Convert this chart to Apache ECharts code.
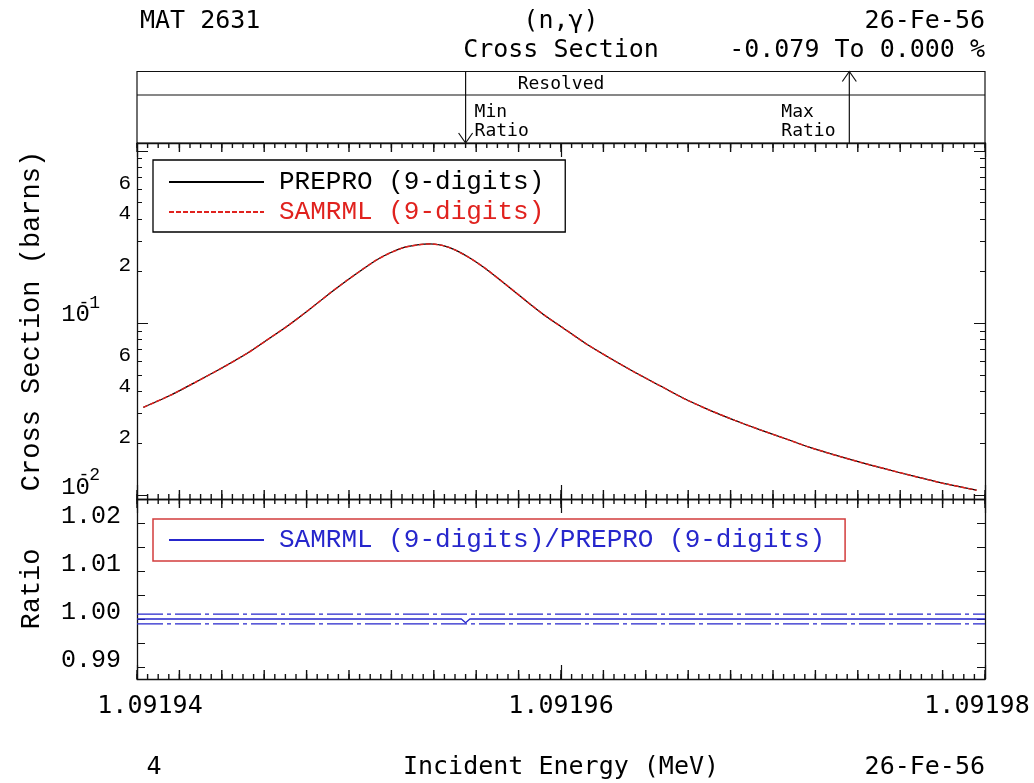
<!DOCTYPE html>
<html><head><meta charset="utf-8">
<script src="https://cdn.jsdelivr.net/npm/echarts@6/dist/echarts.min.js"></script>
<style>html,body{margin:0;padding:0;background:#fff}#c{width:1034px;height:783px}</style>
</head><body><div id="c"></div>
<script>
// ---------------- data ----------------
const energyMeV = [1.0919403, 1.0919416, 1.0919428, 1.0919440, 1.0919452, 1.0919461, 1.0919471, 1.0919481, 1.0919491, 1.0919499,
                   1.0919507, 1.0919513, 1.0919519, 1.0919526, 1.0919533, 1.0919538, 1.0919544, 1.0919550, 1.0919557, 1.0919564,
                   1.0919571, 1.0919578, 1.0919585, 1.0919593, 1.0919601, 1.0919612, 1.0919623, 1.0919635, 1.0919647, 1.0919658,
                   1.0919670, 1.0919682, 1.0919694, 1.0919706, 1.0919717, 1.0919729, 1.0919741, 1.0919753, 1.0919765, 1.0919780,
                   1.0919796];
const prepro    = [0.03236, 0.03815, 0.04558, 0.05475, 0.06664, 0.07913, 0.09607, 0.1190, 0.1489, 0.1766,
                   0.2074, 0.2324, 0.2542, 0.2748, 0.2850, 0.2880, 0.2823, 0.2657, 0.2387, 0.2088,
                   0.1790, 0.1525, 0.1299, 0.1091, 0.09352, 0.07548, 0.06258, 0.05155, 0.04302, 0.03639,
                   0.03120, 0.02718, 0.02393, 0.02125, 0.01901, 0.01713, 0.01555, 0.01420, 0.01302, 0.01174,
                   0.01069];
const samrml    = [0.03236, 0.03815, 0.04558, 0.05475, 0.06664, 0.07913, 0.09607, 0.1190, 0.1489, 0.1766,
                   0.2074, 0.2324, 0.2542, 0.2748, 0.2850, 0.2880, 0.2823, 0.2657, 0.2387, 0.2088,
                   0.1790, 0.1525, 0.1299, 0.1091, 0.09352, 0.07548, 0.06258, 0.05155, 0.04302, 0.03639,
                   0.03120, 0.02718, 0.02393, 0.02125, 0.01901, 0.01713, 0.01555, 0.01420, 0.01302, 0.01174,
                   0.01069];
const ratioEnergy = [1.09194, 1.0919553, 1.0919555, 1.0919557, 1.09198];
const ratioValues = [1.0, 1.0, 0.99921, 1.0, 1.0];
const ratioBands = [0.999, 1.001];
const xRange = [1.09194, 1.09198];
const xMajorStep = 2e-5;
const xMediumStep = 2e-6;
const xMinorStep = 5e-7;
const csRange = [0.0095, 1.11];
const csDecades = [0.01, 0.1, 1];
const csDecadeLabels = [0.01, 0.1];
const csMinorLabels = [0.02, 0.04, 0.06, 0.2, 0.4, 0.6];
const ratioRange = [0.9875, 1.025];
const ratioTickLabels = [0.99, 1.00, 1.01, 1.02];
const ratioTickStep = 0.005;
const minRatioE = 1.0919555, maxRatioE = 1.0919736;
const headerTexts = { mat: 'MAT 2631', reaction: '(n,γ)', nuclide: '26-Fe-56', quantity: 'Cross Section', range: '-0.079 To 0.000 %', region: 'Resolved', page: '4' };

// ---------------- helpers ----------------
const MONO = 'Liberation Mono';
const SANS = 'DejaVu Sans Mono';
const AX = '#111';
const BLUE = '#2626cc';
const RED = '#e0221e';
const L = 137, R = 985, W = 1034;
const G0 = {top: 143, h: 356};
const G1 = {top: 499, h: 180};

function steps(a, b, s) {
  const out = []; const n = Math.round((b - a) / s);
  for (let i = 0; i <= n; i++) out.push(+(a + i * s).toFixed(9));
  return out;
}
const xMediumTicks = steps(xRange[0], xRange[1], xMediumStep);
const xMinorTicks = steps(xRange[0], xRange[1], xMinorStep);

const csMinorTicks = [];
csDecades.slice(0, -1).forEach(d => { for (let m = 1; m <= 9; m++) csMinorTicks.push(+(m * d).toPrecision(3)); });
csMinorTicks.push(1);
const ratioTicks = steps(ratioTickLabels[0], ratioTickLabels[ratioTickLabels.length - 1], ratioTickStep);

function xAxesFor(grid, withLabels) {
  const out = [];
  ['bottom', 'top'].forEach(pos => {
    const lab = withLabels && pos === 'bottom';
    out.push({
      type: 'value', gridIndex: grid, min: xRange[0], max: xRange[1], splitLine: {show: false},
      axisLine: {show: true, onZero: false, lineStyle: {color: AX, width: 1.3}},
      position: pos, interval: xMajorStep,
      axisTick: {show: true, inside: true, length: 14, lineStyle: {color: AX, width: 1.2}},
      axisLabel: lab ? {
        show: true, margin: 15, color: '#000', fontFamily: SANS, fontSize: 25,
        formatter: v => {
          const t = v.toFixed(5);
          if (Math.abs(v - xRange[0]) < 1e-9) return '{f|' + t + '}';
          if (Math.abs(v - xRange[1]) < 1e-9) return '{l|' + t + '}';
          return t;
        },
        rich: {f: {fontFamily: SANS, fontSize: 25, padding: [0, 0, 0, 26]}, l: {fontFamily: SANS, fontSize: 25, padding: [0, 16, 0, 0]}}
      } : {show: false},
      name: lab ? 'Incident Energy (MeV)' : '',
      nameLocation: 'middle', nameGap: 76,
      nameTextStyle: {fontFamily: SANS, fontSize: 25, color: '#000'}
    });
  });
  return out;
}

const logBase = {type: 'log', gridIndex: 0, min: csRange[0], max: csRange[1], splitLine: {show: false}};
const yAxes = [
  // 0: main cross-section log axis, left, minor ticks + digit labels
  Object.assign({}, logBase, {position: 'left',
   axisLine: {show: true, lineStyle: {color: AX, width: 1.3}},
   axisTick: {show: true, inside: true, length: 5, customValues: csMinorTicks, lineStyle: {color: AX}},
   axisLabel: {show: true, customValues: csMinorLabels, margin: 6, color: '#000', fontFamily: MONO, fontSize: 21,
               verticalAlign: 'bottom', lineHeight: 11,
               formatter: v => String(Math.round(v / Math.pow(10, Math.floor(Math.log10(v) + 1e-9))))},
   name: 'Cross Section (barns)', nameLocation: 'middle', nameRotate: 90, nameGap: 92,
   nameTextStyle: {fontFamily: MONO, fontSize: 27, color: '#000'}}),
  // 1: decades, left: mantissa "10"
  Object.assign({}, logBase, {position: 'left', axisLine: {show: false},
   axisTick: {show: true, inside: true, length: 11, customValues: csDecades, lineStyle: {color: AX}},
   axisLabel: {show: true, customValues: csDecadeLabels, margin: 47, color: '#000', fontFamily: MONO, fontSize: 24,
               verticalAlign: 'bottom', lineHeight: 16, formatter: () => '10'}}),
  // 2: decades, left: exponent
  Object.assign({}, logBase, {position: 'left', axisLine: {show: false}, axisTick: {show: false},
   axisLabel: {show: true, customValues: csDecadeLabels, margin: 37, color: '#000', fontFamily: MONO, fontSize: 18,
               verticalAlign: 'bottom', lineHeight: 40, formatter: v => String(Math.round(Math.log10(v)))}}),
  // 3,4: right side
  Object.assign({}, logBase, {position: 'right', axisLine: {show: true, lineStyle: {color: AX, width: 1.3}},
   axisTick: {show: true, inside: true, length: 5, customValues: csMinorTicks, lineStyle: {color: AX}},
   axisLabel: {show: false}}),
  Object.assign({}, logBase, {position: 'right', axisLine: {show: false},
   axisTick: {show: true, inside: true, length: 11, customValues: csDecades, lineStyle: {color: AX}},
   axisLabel: {show: false}}),
  // 5: ratio left
  {type: 'value', gridIndex: 1, position: 'left', min: ratioRange[0], max: ratioRange[1],
   splitLine: {show: false},
   axisLine: {show: true, lineStyle: {color: AX, width: 1.3}},
   axisTick: {show: true, inside: true, length: 8, customValues: ratioTicks, lineStyle: {color: AX}},
   axisLabel: {show: true, customValues: ratioTickLabels, margin: 16, color: '#000', fontFamily: MONO, fontSize: 25,
               verticalAlign: 'bottom', lineHeight: 14, formatter: v => v.toFixed(2)},
   name: 'Ratio', nameLocation: 'middle', nameRotate: 90, nameGap: 92,
   nameTextStyle: {fontFamily: MONO, fontSize: 27, color: '#000'}},
  // 6: ratio right
  {type: 'value', gridIndex: 1, position: 'right', min: ratioRange[0], max: ratioRange[1],
   splitLine: {show: false},
   axisLine: {show: true, lineStyle: {color: AX, width: 1.3}},
   axisTick: {show: true, inside: true, length: 8, customValues: ratioTicks, lineStyle: {color: AX}},
   axisLabel: {show: false}}
];

const xAxes = xAxesFor(0, false).concat(xAxesFor(1, true));
const MAIN_X = 0, MAIN_Y = 0, RATIO_X = 2, RATIO_Y = 5;

// small energy ticks along the top and bottom frame of a panel, drawn as thin rect symbols
function tickMarks(xIdx, yIdx, yLo, yHi, values, len) {
  const mk = (yv, off) => ({
    type: 'scatter', xAxisIndex: xIdx, yAxisIndex: yIdx, silent: true, clip: false, z: 6,
    symbol: 'rect', symbolSize: [1.4, len], symbolOffset: [0, off],
    itemStyle: {color: AX, opacity: 1}, emphasis: {disabled: true},
    data: values.map(v => [v, yv])
  });
  return [mk(yLo, -len / 2), mk(yHi, len / 2)];
}

const chart = echarts.init(document.getElementById('c'), null, {renderer: 'canvas'});
const option = {
  backgroundColor: '#fff',
  animation: false,
  grid: [
    {left: L, right: W - R, top: G0.top, height: G0.h, containLabel: false},
    {left: L, right: W - R, top: G1.top, height: G1.h, containLabel: false}
  ],
  legend: [
    {data: [{name: 'PREPRO (9-digits)', textStyle: {color: '#000'}}, {name: 'SAMRML (9-digits)', textStyle: {color: RED}}],
     orient: 'vertical', left: 153, top: 160, itemWidth: 95, itemHeight: 20, itemGap: 4,
     padding: [9, 21, 7, 15], borderColor: '#000', borderWidth: 1.3, selectedMode: false,
     itemStyle: {opacity: 0},
     textStyle: {fontFamily: MONO, fontSize: 26, padding: [0, 0, 0, 10]}},
    {data: [{name: 'SAMRML (9-digits)/PREPRO (9-digits)', textStyle: {color: BLUE}}],
     orient: 'vertical', left: 153, top: 519, itemWidth: 95, itemHeight: 20,
     padding: [8, 20, 8, 15], borderColor: '#d23c3c', borderWidth: 1.5, selectedMode: false,
     itemStyle: {opacity: 0},
     textStyle: {fontFamily: MONO, fontSize: 26, padding: [0, 0, 0, 10]}}
  ],
  xAxis: xAxes,
  yAxis: yAxes,
  series: [
    {type: 'line', name: 'PREPRO (9-digits)', xAxisIndex: MAIN_X, yAxisIndex: MAIN_Y,
     data: energyMeV.map((e, i) => [e, prepro[i]]), symbol: 'none', smooth: 0.2,
     lineStyle: {color: '#000', width: 1.2}, itemStyle: {color: '#000'}},
    {type: 'line', name: 'SAMRML (9-digits)', xAxisIndex: MAIN_X, yAxisIndex: MAIN_Y,
     data: energyMeV.map((e, i) => [e, samrml[i]]), symbol: 'none', smooth: 0.2,
     lineStyle: {color: RED, width: 1.5, type: [5, 2]}, itemStyle: {color: RED}},
    {type: 'line', name: 'SAMRML (9-digits)/PREPRO (9-digits)', xAxisIndex: RATIO_X, yAxisIndex: RATIO_Y,
     data: ratioEnergy.map((e, i) => [e, ratioValues[i]]), symbol: 'none',
     lineStyle: {color: BLUE, width: 1.3}, itemStyle: {color: BLUE}}
  ].concat(ratioBands.map(v => ({
     type: 'line', name: 'band ' + v, xAxisIndex: RATIO_X, yAxisIndex: RATIO_Y, symbol: 'none', silent: true,
     data: [[xRange[0], v], [xRange[1], v]],
     lineStyle: {color: BLUE, width: 1.3, type: [26, 4, 4, 4]}, itemStyle: {color: BLUE}})))
   .concat(tickMarks(MAIN_X, MAIN_Y, csRange[0], csRange[1], xMinorTicks, 5))
   .concat(tickMarks(MAIN_X, MAIN_Y, csRange[0], csRange[1], xMediumTicks, 9))
   .concat(tickMarks(RATIO_X, RATIO_Y, ratioRange[0], ratioRange[1], xMinorTicks, 5))
   .concat(tickMarks(RATIO_X, RATIO_Y, ratioRange[0], ratioRange[1], xMediumTicks, 9))
};
chart.setOption(option);

// ---------------- header / footer graphics ----------------
const hdrTop = 71.5, hdrMid = 95, hdrBot = G0.top;
const xMin = chart.convertToPixel({xAxisIndex: MAIN_X}, minRatioE);
const xMax = chart.convertToPixel({xAxisIndex: MAIN_X}, maxRatioE);
const xCtr = (L + R) / 2;
function txt(text, x, y, size, family, align) {
  return {type: 'text', x: x, y: y, silent: true,
          style: {text: text, fontSize: size, fontFamily: family, fill: '#000',
                  align: align, verticalAlign: 'middle', textAlign: align, textVerticalAlign: 'middle'}};
}
const stroke = {stroke: AX, lineWidth: 1.2, fill: 'none'};
chart.setOption({
  graphic: [
    {type: 'rect', shape: {x: L, y: hdrTop, width: R - L, height: hdrBot - hdrTop}, style: stroke, silent: true},
    {type: 'line', shape: {x1: L, y1: hdrMid, x2: R, y2: hdrMid}, style: stroke, silent: true},
    {type: 'line', shape: {x1: xMin, y1: hdrTop, x2: xMin, y2: hdrBot}, style: stroke, silent: true},
    {type: 'polyline', shape: {points: [[xMin - 7, hdrBot - 10], [xMin, hdrBot], [xMin + 7, hdrBot - 10]]}, style: stroke, silent: true},
    {type: 'line', shape: {x1: xMax, y1: hdrTop, x2: xMax, y2: hdrBot}, style: stroke, silent: true},
    {type: 'polyline', shape: {points: [[xMax - 7, hdrTop + 10], [xMax, hdrTop], [xMax + 7, hdrTop + 10]]}, style: stroke, silent: true},
    txt(headerTexts.mat, 140, 21, 25, SANS, 'left'),
    txt(headerTexts.reaction, xCtr, 21, 25, SANS, 'center'),
    txt(headerTexts.nuclide, R, 21, 25, SANS, 'right'),
    txt(headerTexts.quantity, xCtr, 50, 25, SANS, 'center'),
    txt(headerTexts.range, R, 50, 25, SANS, 'right'),
    txt(headerTexts.region, xCtr, 84, 18, SANS, 'center'),
    txt('Min', xMin + 9, 112, 18, SANS, 'left'),
    txt('Ratio', xMin + 9, 131, 18, SANS, 'left'),
    txt('Max', xMax - 68, 112, 18, SANS, 'left'),
    txt('Ratio', xMax - 68, 131, 18, SANS, 'left'),
    txt(headerTexts.page, 154, 767, 25, SANS, 'center'),
    txt(headerTexts.nuclide, R, 767, 25, SANS, 'right')
  ]
});
</script>
</body></html>
